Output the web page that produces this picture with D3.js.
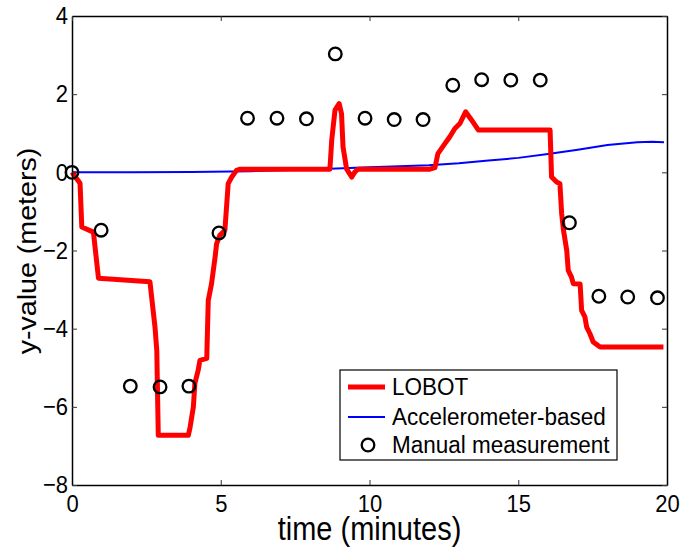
<!DOCTYPE html>
<html>
<head>
<meta charset="utf-8">
<script src="https://cdn.jsdelivr.net/npm/d3@7"></script>
<style>
  html, body { margin: 0; padding: 0; background: #fff; }
  svg { display: block; font-family: "Liberation Sans", Arial, Helvetica, sans-serif; }
</style>
</head>
<body>
<svg id="chart" width="683" height="550"></svg>
<script>
// LOBOT position estimate (minutes, metres)
const lobotTime = [0, 0.27, 0.33, 0.72, 0.89, 2.62, 2.79, 2.85, 2.9, 3.91, 3.97, 4.08, 4.13, 4.24, 4.3, 4.53, 4.58, 4.69, 4.81, 4.86, 4.97, 5.14, 5.25, 5.37, 5.53, 5.65, 8.67, 8.73, 8.84, 8.98, 9.06, 9.11, 9.23, 9.4, 9.51, 9.62, 12.03, 12.2, 12.3, 12.54, 12.7, 12.87, 13.04, 13.23, 13.43, 13.66, 16.07, 16.12, 16.29, 16.4, 16.46, 16.52, 16.63, 16.68, 16.79, 16.85, 17.08, 17.13, 17.24, 17.3, 17.41, 17.52, 17.75, 19.88];
const lobotY = [0, -0.28, -1.4, -1.53, -2.71, -2.8, -3.96, -4.56, -6.73, -6.73, -6.52, -6.0, -5.4, -5.07, -4.81, -4.76, -3.28, -2.85, -2.17, -1.83, -1.61, -1.48, -0.29, -0.12, 0.05, 0.08, 0.08, 0.82, 1.59, 1.76, 1.5, 0.65, 0.09, -0.12, 0.01, 0.08, 0.08, 0.12, 0.48, 0.74, 0.91, 1.12, 1.25, 1.55, 1.34, 1.08, 1.08, -0.12, -0.25, -0.29, -1.06, -1.48, -2.0, -2.51, -2.68, -2.85, -2.86, -3.53, -3.7, -3.96, -4.13, -4.34, -4.47, -4.47];

// Accelerometer-based estimate
const accelTime = [0, 2, 4, 6, 8, 10, 12, 13, 14, 15, 16, 17, 18, 19, 19.5, 19.9];
const accelY = [0, 0, 0.01, 0.03, 0.07, 0.13, 0.18, 0.23, 0.3, 0.37, 0.47, 0.58, 0.7, 0.77, 0.78, 0.77];

// Manual measurements
const manualTime = [0, 0.98, 1.96, 2.96, 3.93, 4.94, 5.9, 6.89, 7.88, 8.85, 9.85, 10.83, 11.8, 12.8, 13.77, 14.75, 15.74, 16.72, 17.71, 18.68, 19.68];
const manualY = [0, -1.48, -5.47, -5.49, -5.47, -1.55, 1.385, 1.385, 1.37, 3.03, 1.385, 1.35, 1.35, 2.23, 2.37, 2.36, 2.36, -1.29, -3.17, -3.19, -3.21];

// Axis ticks
const xTicks = [0, 5, 10, 15, 20];
const yTicks = [-8, -6, -4, -2, 0, 2, 4];

const legendLabels = ["LOBOT", "Accelerometer-based", "Manual measurement"];

const svg = d3.select("#chart");
const plot = { left: 72, right: 667, top: 16, bottom: 485 };

const x = d3.scaleLinear().domain([0, 20]).range([plot.left, plot.right]);
const y = d3.scaleLinear().domain([-8, 4]).range([plot.bottom, plot.top]);

const toPoints = (ts, vs) => ts.map((t, i) => [t, vs[i]]);
const line = d3.line().x(d => x(d[0])).y(d => y(d[1]));

const clip = svg.append("clipPath").attr("id", "plotclip")
  .append("rect").attr("x", plot.left).attr("y", plot.top)
  .attr("width", plot.right - plot.left).attr("height", plot.bottom - plot.top);

// Series
svg.append("path")
  .datum(toPoints(accelTime, accelY))
  .attr("d", line)
  .attr("fill", "none")
  .attr("stroke", "#0000ff")
  .attr("stroke-width", 2);

svg.append("path")
  .datum(toPoints(lobotTime, lobotY))
  .attr("d", line)
  .attr("fill", "none")
  .attr("stroke", "#ff0000")
  .attr("stroke-width", 5)
  .attr("stroke-linejoin", "round");

svg.append("g").selectAll("circle")
  .data(toPoints(manualTime, manualY))
  .join("circle")
  .attr("cx", d => x(d[0]))
  .attr("cy", d => y(d[1]))
  .attr("r", 6.3)
  .attr("fill", "none")
  .attr("stroke", "#000")
  .attr("stroke-width", 2.3);

// Axes: ticks point inward on all four sides
function styleAxis(g) {
  g.select(".domain").attr("stroke", "#000").attr("stroke-width", 1.5);
  g.selectAll(".tick line").attr("stroke", "#333").attr("stroke-width", 1);
  g.selectAll(".tick text")
    .attr("fill", "#000")
    .style("font-size", "22px")
    .style("font-family", "'Liberation Sans', Arial, sans-serif");
}

const xAxis = svg.append("g")
  .attr("transform", `translate(0,${plot.bottom})`)
  .call(d3.axisBottom(x).tickValues(xTicks).tickSizeInner(-5).tickSizeOuter(0).tickPadding(9));
styleAxis(xAxis);
xAxis.selectAll(".tick text").attr("transform", "scale(1,1.1)");

const yAxis = svg.append("g")
  .attr("transform", `translate(${plot.left},0)`)
  .call(d3.axisLeft(y).tickValues(yTicks).tickSizeInner(-5).tickSizeOuter(0).tickPadding(4));
styleAxis(yAxis);
yAxis.selectAll(".tick text").attr("transform", "scale(1,1.1)");

const topAxis = svg.append("g")
  .attr("transform", `translate(0,${plot.top})`)
  .call(d3.axisTop(x).tickValues(xTicks).tickSizeInner(-5).tickSizeOuter(0).tickFormat(""));
styleAxis(topAxis);

const rightAxis = svg.append("g")
  .attr("transform", `translate(${plot.right},0)`)
  .call(d3.axisRight(y).tickValues(yTicks).tickSizeInner(-5).tickSizeOuter(0).tickFormat(""));
styleAxis(rightAxis);

// Axis titles
svg.append("text")
  .attr("transform", `translate(${(plot.left + plot.right) / 2},540) scale(1,1.12)`)
  .attr("text-anchor", "middle")
  .style("font-size", "29px")
  .text("time (minutes)");

svg.append("text")
  .attr("transform", `translate(36,251) scale(1,1.1) rotate(-90)`)
  .attr("text-anchor", "middle")
  .style("font-size", "26px")
  .text("y-value (meters)");

// Legend
const legend = svg.append("g");
legend.append("rect")
  .attr("x", 340).attr("y", 370).attr("width", 277).attr("height", 90)
  .attr("fill", "#fff").attr("stroke", "#000").attr("stroke-width", 1.2);

const rowY = [387, 417, 445];
legend.append("line")
  .attr("x1", 348).attr("x2", 385).attr("y1", rowY[0]).attr("y2", rowY[0])
  .attr("stroke", "#ff0000").attr("stroke-width", 5);
legend.append("line")
  .attr("x1", 348).attr("x2", 385).attr("y1", rowY[1]).attr("y2", rowY[1])
  .attr("stroke", "#0000ff").attr("stroke-width", 2);
legend.append("circle")
  .attr("cx", 368).attr("cy", rowY[2]).attr("r", 6.3)
  .attr("fill", "none").attr("stroke", "#000").attr("stroke-width", 2.3);

legend.selectAll("text.label")
  .data(legendLabels)
  .join("text")
  .attr("class", "label")
  .attr("transform", (d, i) => `translate(392,${rowY[i] + 8}) scale(1,1.05)`)
  .style("font-size", "22.5px")
  .text(d => d);
</script>
</body>
</html>
